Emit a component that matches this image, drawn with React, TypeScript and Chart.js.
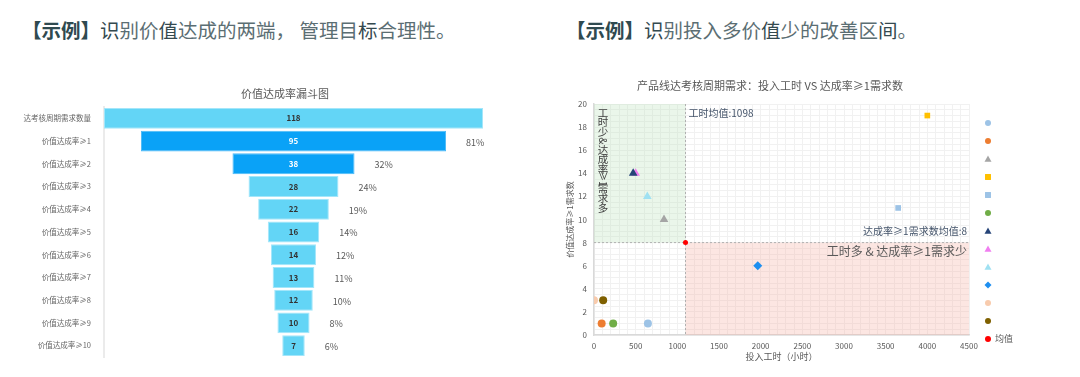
import React, { useEffect, useRef } from "react";
import { Chart, registerables } from "chart.js";
Chart.register(...registerables);

const FONT = "'Noto Sans CJK SC', 'Noto Sans', sans-serif";

// ---------- Funnel data ----------
const funnelTitle = "价值达成率漏斗图";
const funnelCategories = [
  "达考核周期需求数量",
  "价值达成率≥1",
  "价值达成率≥2",
  "价值达成率≥3",
  "价值达成率≥4",
  "价值达成率≥5",
  "价值达成率≥6",
  "价值达成率≥7",
  "价值达成率≥8",
  "价值达成率≥9",
  "价值达成率≥10",
];
const funnelValues = [118, 95, 38, 28, 22, 16, 14, 13, 12, 10, 7];
const funnelPercents = ["", "81%", "32%", "24%", "19%", "14%", "12%", "11%", "10%", "8%", "6%"];
const funnelHighlight = [false, true, true, false, false, false, false, false, false, false, false];

// ---------- Scatter data ----------
const scatterTitle = "产品线达考核周期需求：投入工时 VS 达成率≥1需求数";
const seriesNames = ["", "", "", "", "", "", "", "", "", "", "", "", "均值"];
const seriesX = [647, 92, 840, 4000, 3650, 230, 470, 500, 640, 1965, 0, 110, 1098];
const seriesY = [1, 1, 10, 19, 11, 1, 14, 14, 12, 6, 3, 3, 8];
const seriesColors = [
  "#9dc3e6", "#ed7d31", "#a5a5a5", "#ffc000", "#9dc3e6", "#70ad47",
  "#264478", "#f07ef0", "#9fe1f2", "#1e8ff0", "#f8cbad", "#7f6000", "#ff0000",
];
const seriesStyles = [
  "circle", "circle", "triangle", "rect", "rect", "circle",
  "triangle", "triangle", "triangle", "rectRot", "circle", "circle", "circle",
];
const meanHours = 1098;
const meanCount = 8;
const xTicksMajor = 500;
const yTicksMajor = 2;

function drawMarker(ctx: CanvasRenderingContext2D, style: string, x: number, y: number, r: number, color: string) {
  ctx.save();
  ctx.fillStyle = color;
  ctx.beginPath();
  if (style === "circle") {
    ctx.arc(x, y, r, 0, Math.PI * 2);
  } else if (style === "triangle") {
    ctx.moveTo(x, y - r);
    ctx.lineTo(x + r, y + r * 0.8);
    ctx.lineTo(x - r, y + r * 0.8);
    ctx.closePath();
  } else if (style === "rect") {
    ctx.rect(x - r * 0.85, y - r * 0.85, r * 1.7, r * 1.7);
  } else if (style === "rectRot") {
    ctx.moveTo(x, y - r);
    ctx.lineTo(x + r, y);
    ctx.lineTo(x, y + r);
    ctx.lineTo(x - r, y);
    ctx.closePath();
  }
  ctx.fill();
  ctx.restore();
}

function FunnelChart() {
  const ref = useRef<HTMLCanvasElement | null>(null);
  useEffect(() => {
    if (!ref.current) return;
    const labelPlugin = {
      id: "funnelLabels",
      afterDatasetsDraw(chart: any) {
        const ctx = chart.ctx as CanvasRenderingContext2D;
        const meta = chart.getDatasetMeta(0);
        ctx.save();
        meta.data.forEach((bar: any, i: number) => {
          const p = bar.getProps(["x", "y", "base"], true);
          const left = Math.min(p.x, p.base);
          const right = Math.max(p.x, p.base);
          ctx.font = `bold 8px ${FONT}`;
          ctx.textAlign = "center";
          ctx.textBaseline = "middle";
          ctx.fillStyle = funnelHighlight[i] ? "#ffffff" : "#333333";
          ctx.fillText(String(funnelValues[i]), (left + right) / 2, p.y);
          if (funnelPercents[i]) {
            ctx.font = `9px ${FONT}`;
            ctx.textAlign = "left";
            ctx.fillStyle = "#595959";
            ctx.fillText(funnelPercents[i], right + 20, p.y + 1);
          }
        });
        ctx.font = `11px ${FONT}`;
        ctx.textAlign = "center";
        ctx.textBaseline = "middle";
        ctx.fillStyle = "#595959";
        ctx.fillText(funnelTitle, 285, 14);
        ctx.restore();
      },
    };
    const chart = new Chart(ref.current, {
      type: "bar",
      data: {
        labels: funnelCategories,
        datasets: [
          {
            data: funnelValues.map((v) => [-v / 2, v / 2]) as any,
            backgroundColor: funnelHighlight.map((h) => (h ? "#0aa2f7" : "#63d5f6")),
            borderColor: funnelHighlight.map((h) => (h ? "#4cbaf7" : "#a3e6fa")),
            borderWidth: 1,
            borderSkipped: false,
            barPercentage: 0.92,
            categoryPercentage: 1,
          },
        ],
      },
      options: {
        indexAxis: "y",
        animation: false,
        responsive: false,
        maintainAspectRatio: false,
        layout: { padding: { top: 27, right: 57, bottom: 13, left: 0 } },
        plugins: { legend: { display: false }, tooltip: { enabled: false } },
        scales: {
          x: { display: false, min: -59, max: 59 },
          y: {
            grid: { display: false },
            border: { color: "#ebebeb", width: 2 },
            ticks: { color: "#666666", font: { size: 7.5, family: FONT }, padding: 5 },
            afterFit: (s: any) => {
              s.width = 104;
            },
          },
        },
      } as any,
      plugins: [labelPlugin],
    });
    return () => chart.destroy();
  }, []);
  return <canvas ref={ref} width={540} height={290} style={{ position: "absolute", left: 0, top: 80, width: 540, height: 290 }} />;
}

function ScatterChart() {
  const ref = useRef<HTMLCanvasElement | null>(null);
  useEffect(() => {
    if (!ref.current) return;
    const annot = {
      id: "annot",
      beforeDatasetsDraw(chart: any) {
        const ctx = chart.ctx as CanvasRenderingContext2D;
        const xs = chart.scales.x;
        const ys = chart.scales.y;
        const ca = chart.chartArea;
        const mx = xs.getPixelForValue(meanHours);
        const my = ys.getPixelForValue(meanCount);
        ctx.save();
        ctx.fillStyle = "rgba(190, 228, 190, 0.32)";
        ctx.fillRect(ca.left, ca.top, mx - ca.left, my - ca.top);
        ctx.fillStyle = "rgba(247, 180, 168, 0.33)";
        ctx.fillRect(mx, my, ca.right - mx, ca.bottom - my);
        ctx.strokeStyle = "#b0b0b0";
        ctx.lineWidth = 1;
        ctx.setLineDash([2, 2]);
        ctx.beginPath();
        ctx.moveTo(mx, ca.top);
        ctx.lineTo(mx, ca.bottom);
        ctx.moveTo(ca.left, my);
        ctx.lineTo(ca.right, my);
        ctx.stroke();
        ctx.setLineDash([]);

        // annotation texts
        ctx.textBaseline = "middle";
        ctx.font = `10px ${FONT}`;
        ctx.fillStyle = "#44546a";
        ctx.textAlign = "left";
        ctx.fillText(`工时均值:${meanHours}`, mx + 3, ys.getPixelForValue(19.2));
        ctx.textAlign = "right";
        ctx.fillText(`达成率≥1需求数均值:${meanCount}`, ca.right - 2, ys.getPixelForValue(9.0));
        ctx.font = `12px ${FONT}`;
        ctx.fillStyle = "#595959";
        ctx.fillText("工时多 & 达成率≥1需求少", ca.right - 2, ys.getPixelForValue(7.2));

        // vertical text
        const vx = xs.getPixelForValue(108);
        let vy = ys.getPixelForValue(19.65);
        const parts: [string, number, boolean][] = [
          ["工", 9.6, false], ["时", 9.6, false], ["少", 9.6, false], ["&", 8, true],
          ["达", 9.6, false], ["成", 9.6, false], ["率", 9.6, false], ["≥1", 10, true],
          ["需", 9.6, false], ["求", 9.6, false], ["多", 9.6, false],
        ];
        ctx.font = `10.5px ${FONT}`;
        ctx.fillStyle = "#404040";
        ctx.textAlign = "center";
        parts.forEach(([t, step, rot]) => {
          if (!rot) {
            ctx.fillText(t, vx, vy + step / 2);
          } else {
            ctx.save();
            ctx.translate(vx, vy + step / 2);
            ctx.rotate(Math.PI / 2);
            ctx.fillText(t, 0, 0);
            ctx.restore();
          }
          vy += step;
        });
        ctx.restore();
      },
      afterDraw(chart: any) {
        const ctx = chart.ctx as CanvasRenderingContext2D;
        ctx.save();
        ctx.font = `11px ${FONT}`;
        ctx.fillStyle = "#595959";
        ctx.textAlign = "center";
        ctx.textBaseline = "middle";
        ctx.fillText(scatterTitle, 230, 16);
        // legend
        const lx = 448;
        seriesNames.forEach((name, i) => {
          const ly = 53 + i * 18;
          drawMarker(ctx, seriesStyles[i], lx, ly, seriesStyles[i] === "circle" ? 3 : 3.5, seriesColors[i]);
          if (name) {
            ctx.font = `9px ${FONT}`;
            ctx.fillStyle = "#595959";
            ctx.textAlign = "left";
            ctx.fillText(name, lx + 7, ly);
          }
        });
        ctx.restore();
      },
    };
    const chart = new Chart(ref.current, {
      type: "scatter",
      data: {
        datasets: seriesNames.map((name, i) => ({
          label: name,
          data: [{ x: seriesX[i], y: seriesY[i] }],
          pointStyle: seriesStyles[i] as any,
          backgroundColor: seriesColors[i],
          borderColor: seriesColors[i],
          borderWidth: 0,
          pointRadius: i === 12 ? 2.5 : seriesStyles[i] === "triangle" ? 5 : seriesStyles[i] === "rectRot" ? 4.5 : 4,
        })),
      },
      options: {
        animation: false,
        responsive: false,
        maintainAspectRatio: false,
        layout: { padding: { top: 34, right: 111, bottom: 15, left: 25 } },
        plugins: { legend: { display: false }, tooltip: { enabled: false } },
        scales: {
          x: {
            type: "linear",
            min: 0,
            max: 4500,
            grid: { color: "#f1f1f1", lineWidth: 1, drawTicks: false },
            border: { color: "#d9d9d9", width: 1.5 },
            ticks: {
              stepSize: 100,
              autoSkip: false,
              maxRotation: 0,
              color: "#595959",
              font: { size: 8, family: FONT },
              padding: 6,
              callback: (v: any) => (Number(v) % xTicksMajor === 0 ? String(v) : ""),
            },
            title: { display: true, text: "投入工时（小时）", color: "#595959", font: { size: 9, family: FONT }, padding: { top: 2, bottom: 0 } },
            afterFit: (s: any) => {
              s.height = 27;
            },
          },
          y: {
            type: "linear",
            min: 0,
            max: 20,
            grid: { color: "#f1f1f1", lineWidth: 1, drawTicks: false },
            border: { color: "#d9d9d9", width: 1.5 },
            ticks: {
              stepSize: 0.5,
              autoSkip: false,
              color: "#595959",
              font: { size: 8, family: FONT },
              padding: 7,
              callback: (v: any) => (Number(v) % yTicksMajor === 0 ? String(v) : ""),
            },
            title: { display: true, text: "价值达成率≥1需求数", color: "#595959", font: { size: 8, family: FONT }, padding: { top: 0, bottom: 2 } },
            afterFit: (s: any) => {
              s.width = 29;
            },
          },
        },
      } as any,
      plugins: [annot],
    });
    return () => chart.destroy();
  }, []);
  return <canvas ref={ref} width={540} height={307} style={{ position: "absolute", left: 540, top: 70, width: 540, height: 307 }} />;
}

export default function App() {
  const headStyle: React.CSSProperties = {
    position: "absolute",
    top: 20,
    fontSize: 19.5,
    lineHeight: "20px",
    fontFamily: FONT,
    color: "#5b6e73",
    whiteSpace: "nowrap",
  };
  const bold: React.CSSProperties = { fontWeight: 700, color: "#2f4a50" };
  const dark: React.CSSProperties = { color: "#34494f" };
  return (
    <div style={{ position: "absolute", left: 0, top: 0, width: 1080, height: 377, background: "#ffffff", overflow: "hidden" }}>
      <div style={{ ...headStyle, left: 22 }}>
        <span style={bold}>【示例】</span>
        <span style={dark}>识</span>别价<span style={dark}>值</span>达成的两端， 管理目<span style={dark}>标</span>合理性。
      </div>
      <div style={{ ...headStyle, left: 566 }}>
        <span style={bold}>【示例】</span>
        <span style={dark}>识</span>别投入多价<span style={dark}>值</span>少的改善区<span style={dark}>间</span>。
      </div>
      <FunnelChart />
      <ScatterChart />
    </div>
  );
}
